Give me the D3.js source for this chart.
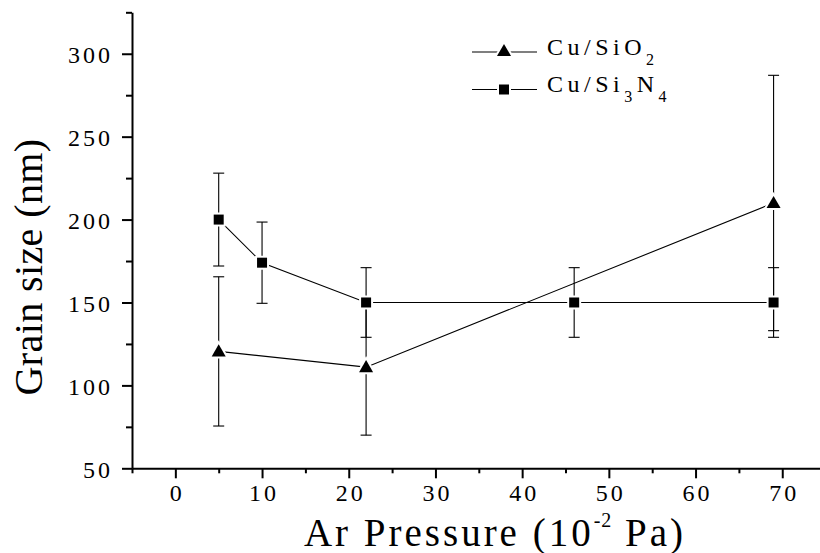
<!DOCTYPE html>
<html>
<head>
<meta charset="utf-8">
<script src="https://cdn.jsdelivr.net/npm/d3@7"></script>
<style>
  body { margin: 0; background: #fff; }
  svg { display: block; }
  svg text { font-family: "Liberation Serif", "DejaVu Serif", serif; fill: #000; }
  .axis path, .axis line { stroke: #000; stroke-width: 2; }
  .axis text { font-family: "Liberation Serif", serif; font-size: 24px; letter-spacing: 3px; }
</style>
</head>
<body>
<svg id="chart" width="820" height="553"></svg>
<script>
'use strict';
// data
const pressureSiO2 = [5, 22, 69];
const grainSiO2 = [120.5, 111, 210];
const errSiO2 = [45, 41, 77];

const pressureSiN = [5, 10, 22, 46, 69];
const grainSiN = [200, 174, 150, 150, 150];
const errSiN = [28, 24.5, 21, 21, 21];

const xMajor = [0, 10, 20, 30, 40, 50, 60, 70];
const xMinor = [-5, 5, 15, 25, 35, 45, 55, 65];
const yMajor = [50, 100, 150, 200, 250, 300];
const yMinor = [75, 125, 175, 225, 275, 325];

const svg = d3.select("#chart");

const x = d3.scaleLinear().domain([-5, 75]).range([132, 825.6]);
const y = d3.scaleLinear().domain([50, 325]).range([468.3, 12.3]);

// axes, major and minor ticks drawn separately
const gx = svg.append("g").attr("class", "axis")
  .attr("transform", `translate(0,${y(50)})`)
  .call(d3.axisBottom(x).tickValues(xMajor).tickSize(10).tickSizeOuter(0).tickPadding(6));
gx.selectAll("text").attr("dy", "0.71em").attr("dx", "1.5px");
svg.append("g").attr("class", "axis")
  .attr("transform", `translate(0,${y(50)})`)
  .call(d3.axisBottom(x).tickValues(xMinor).tickSize(5).tickSizeOuter(0).tickFormat(""))
  .select(".domain").remove();

const gy = svg.append("g").attr("class", "axis")
  .attr("transform", `translate(${x(-5)},0)`)
  .call(d3.axisLeft(y).tickValues(yMajor).tickSize(10).tickSizeOuter(0).tickPadding(9));
gy.selectAll("text").attr("dy", "0.38em");
svg.append("g").attr("class", "axis")
  .attr("transform", `translate(${x(-5)},0)`)
  .call(d3.axisLeft(y).tickValues(yMinor).tickSize(6).tickSizeOuter(0).tickFormat(""))
  .select(".domain").remove();

// axis titles
const xt = svg.append("text")
  .attr("x", 495).attr("y", 546)
  .attr("text-anchor", "middle")
  .style("font-size", "39px").style("letter-spacing", "3px");
xt.append("tspan").text("Ar Pressure (10");
xt.append("tspan").attr("dy", -19).style("font-size", "20px").style("letter-spacing", "1px").text("-2");
xt.append("tspan").attr("dy", 19).text(" Pa)");

svg.append("text")
  .attr("transform", "translate(42,267) rotate(-90)")
  .attr("text-anchor", "middle")
  .style("font-size", "40px").style("letter-spacing", "0.4px")
  .text("Grain size (nm)");

// symbols
const tri = d3.symbol().type(d3.symbolTriangle).size(85);
const sq = d3.symbol().type(d3.symbolSquare).size(100);

function drawSeries(xs, ys, es) {
  const pts = xs.map((v, i) => ({x: v, y: ys[i], e: es[i]}));
  const g = svg.append("g");
  g.append("path")
    .datum(pts)
    .attr("fill", "none").attr("stroke", "#000").attr("stroke-width", 1.1)
    .attr("d", d3.line().x(d => x(d.x)).y(d => y(d.y)));
  const eb = g.selectAll("g.err").data(pts).join("g").attr("class", "err")
    .attr("stroke", "#000").attr("stroke-width", 1.1);
  eb.append("line")
    .attr("x1", d => x(d.x)).attr("x2", d => x(d.x))
    .attr("y1", d => y(d.y - d.e)).attr("y2", d => y(d.y + d.e));
  eb.append("line")
    .attr("x1", d => x(d.x) - 5.5).attr("x2", d => x(d.x) + 5.5)
    .attr("y1", d => y(d.y + d.e)).attr("y2", d => y(d.y + d.e));
  eb.append("line")
    .attr("x1", d => x(d.x) - 5.5).attr("x2", d => x(d.x) + 5.5)
    .attr("y1", d => y(d.y - d.e)).attr("y2", d => y(d.y - d.e));
  return pts;
}

const ptsSiN = drawSeries(pressureSiN, grainSiN, errSiN);
const ptsSiO2 = drawSeries(pressureSiO2, grainSiO2, errSiO2);

// markers with a thin white halo, like the original
function drawMarks(pts, shape, dy) {
  svg.append("g").selectAll("path").data(pts).join("path")
    .attr("transform", d => `translate(${x(d.x)},${y(d.y) + dy})`)
    .attr("d", shape)
    .attr("fill", "#000").attr("stroke", "#fff").attr("stroke-width", 4)
    .attr("paint-order", "stroke");
}
drawMarks(ptsSiN, sq, 0);
drawMarks(ptsSiO2, tri, 1);

// legend
const legend = [
  {shape: tri, y: 52, base: "Cu/SiO", parts: [["2", true]]},
  {shape: sq, y: 89.5, base: "Cu/Si", parts: [["3", true], ["N", false], ["4", true]]}
];
const lg = svg.append("g");
legend.forEach(l => {
  lg.append("line").attr("x1", 472).attr("x2", 537).attr("y1", l.y).attr("y2", l.y)
    .attr("stroke", "#000").attr("stroke-width", 1.1);
  lg.append("path").attr("transform", `translate(504,${l.y})`).attr("d", l.shape)
    .attr("fill", "#000").attr("stroke", "#fff").attr("stroke-width", 4).attr("paint-order", "stroke");
  const t = lg.append("text").attr("x", 547).attr("y", l.y + 2.5)
    .style("font-size", "24px").style("letter-spacing", "4.5px");
  t.append("tspan").text(l.base);
  let shifted = false;
  l.parts.forEach(([s, sub]) => {
    const ts = t.append("tspan").text(s);
    if (sub && !shifted) { ts.attr("dy", 10).style("font-size", "16px"); shifted = true; }
    else if (!sub && shifted) { ts.attr("dy", -10); shifted = false; }
    else if (sub) { ts.style("font-size", "16px"); }
  });
});
</script>
</body>
</html>
